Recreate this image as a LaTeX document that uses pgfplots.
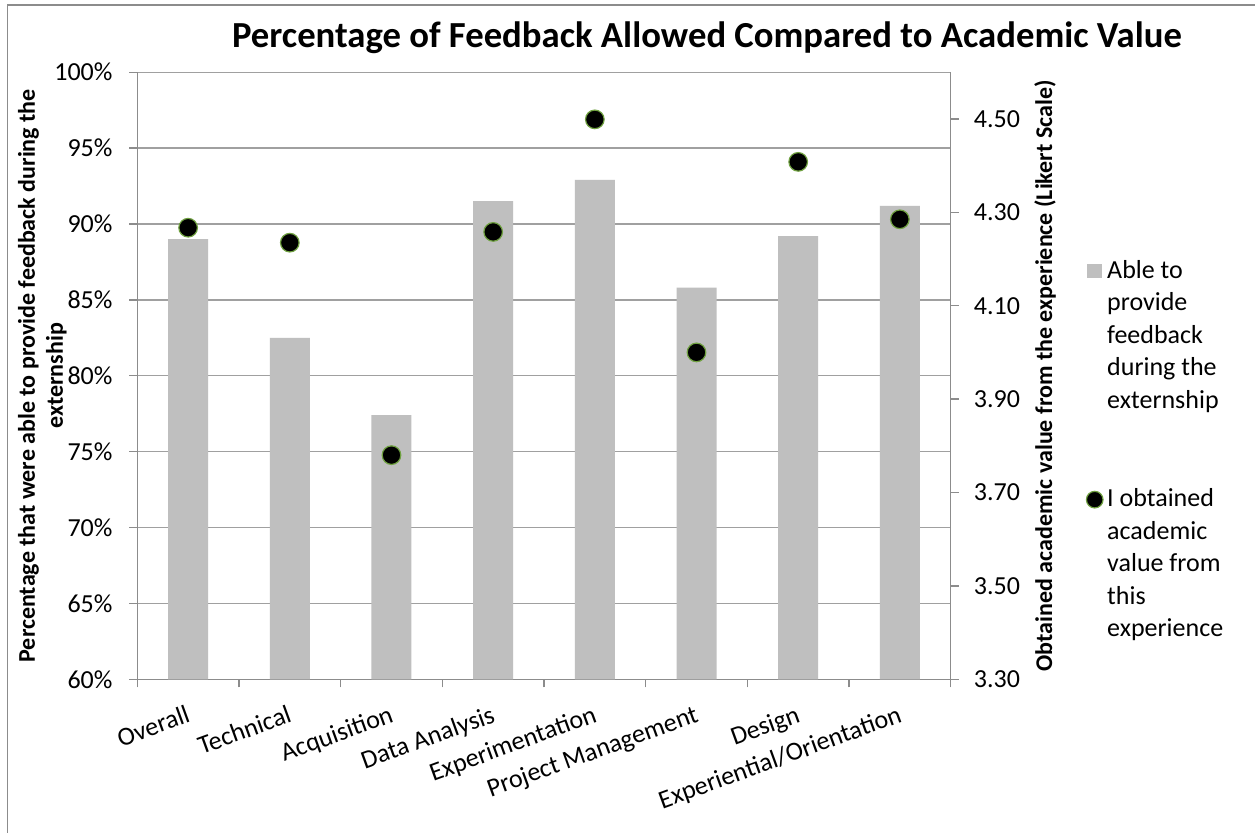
\documentclass[border=0pt]{standalone}
\usepackage{pgfplots}
\pgfplotsset{compat=1.18}
\usepackage{fontspec}
\setmainfont{Carlito}
\definecolor{barcolor}{HTML}{BFBFBF}
\definecolor{gridcolor}{HTML}{A0A0A0}
\definecolor{axiscolor}{HTML}{8C8C8C}
\definecolor{markedge}{HTML}{6FA040}
\newcommand{\tickfont}{\fontsize{26bp}{32.5bp}\selectfont}
\newcommand{\labfont}{\bfseries\fontsize{24bp}{28bp}\selectfont}
\newcommand{\titlefont}{\bfseries\fontsize{36.7bp}{44bp}\selectfont}
\begin{document}
\begin{tikzpicture}
\path[use as bounding box] (0,0) rectangle (1255bp,-833bp);
\fill[white] (0,0) rectangle (1255bp,-833bp);
\draw[axiscolor, line width=1.5bp] (7.3bp,-833bp) -- (7.3bp,-5bp) -- (1255bp,-5bp);
\node[font=\titlefont, anchor=base, inner sep=0pt] at (707bp,-47bp) {Percentage of Feedback Allowed Compared to Academic Value};
\begin{axis}[
  at={(137.3bp,-679.3bp)}, anchor=south west,
  scale only axis, width=813.4bp, height=607.1bp,
  xmin=-0.5, xmax=7.5, ymin=60, ymax=100,
  axis x line*=bottom, axis y line*=left,
  axis line style={axiscolor, line width=1.3bp},
  xtick={0,...,7},
  xticklabels={Overall,Technical,Acquisition,Data Analysis,Experimentation,Project Management,Design,Experiential/Orientation},
  minor xtick={-0.5,0.5,...,7.5},
  major x tick style={draw=none},
  minor x tick style={axiscolor, line width=1.3bp},
  minor tick length=8bp,
  major tick length=8bp,
  ytick={60,65,...,100},
  y tick style={axiscolor, line width=1.3bp},
  tick align=outside,
  ymajorgrids, major grid style={gridcolor, line width=1.3bp},
  yticklabel={\pgfmathprintnumber{\tick}\%},
  /pgf/number format/assume math mode=true,
  xticklabel style={font=\tickfont, inner sep=0pt, anchor=north east, xshift=-3bp, yshift=-17bp, rotate=20},
  yticklabel style={font=\tickfont, anchor=east, inner sep=0pt, xshift=-16.6bp},
  ylabel={Percentage that were able to provide feedback during the\\externship},
  every axis y label/.style={at={(axis description cs:0,0.5)}, anchor=center, xshift=-95bp, rotate=90, font=\labfont, align=center},
]
\addplot[ybar, bar width=40bp, fill=barcolor, draw=none] coordinates {
(0,89.0) (1,82.5) (2,77.4) (3,91.5) (4,92.9) (5,85.8) (6,89.2) (7,91.2)};
\end{axis}
\begin{axis}[
  at={(137.3bp,-679.3bp)}, anchor=south west,
  scale only axis, width=813.4bp, height=607.1bp,
  xmin=-0.5, xmax=7.5, ymin=3.3, ymax=4.6,
  axis x line=none, axis y line*=right,
  axis line style={axiscolor, line width=1.3bp},
  ytick={3.3,3.5,3.7,3.9,4.1,4.3,4.5},
  y tick style={axiscolor, line width=1.3bp},
  major tick length=8bp,
  tick align=outside,
  yticklabel style={font=\tickfont, anchor=west, inner sep=0pt, xshift=15bp, /pgf/number format/.cd, fixed, fixed zerofill, precision=2, assume math mode=true},
  ylabel={Obtained academic value from the experience (Likert Scale)},
  every axis y label/.style={at={(axis description cs:1,0.5)}, anchor=center, xshift=94.3bp, rotate=90, font=\labfont},
  legend style={at={(1.1627,0.697)}, anchor=north west, draw=none, fill=none, font=\tickfont, row sep=75bp, cells={align=left}},
  legend cell align=left,
  clip=false,
]
\addlegendimage{legend image code/.code={\fill[barcolor, draw=none] (-1bp,57bp) rectangle (14bp,71bp);\path[draw=none, fill=none] (-2bp,-71bp) rectangle (17bp,71bp);}}
\addlegendentry{Able to\\provide\\feedback\\during the\\externship}
\addplot[only marks, mark=*, mark size=9.3bp, mark options={fill=black, draw=markedge, line width=1.2bp},
  legend image code/.code={\draw[only marks, mark=*, mark size=8.3bp, mark options={fill=black, draw=markedge, line width=1.2bp}] plot coordinates {(6.5bp,64bp)};\path[draw=none, fill=none] (-2bp,-71bp) rectangle (17bp,71bp);}] coordinates {
(0,4.267) (1,4.235) (2,3.78) (3,4.258) (4,4.499) (5,4.00) (6,4.408) (7,4.285)};
\addlegendentry{I obtained\\academic\\value from\\this\\experience}
\end{axis}
\end{tikzpicture}
\end{document}
